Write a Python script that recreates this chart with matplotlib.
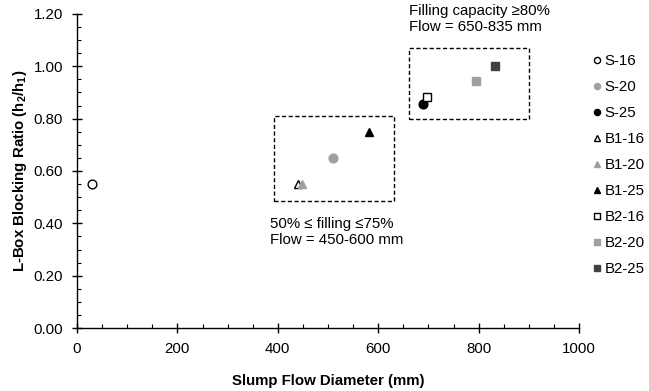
import numpy as np
import matplotlib
matplotlib.use('Agg')
import matplotlib.pyplot as plt
from matplotlib.patches import Rectangle
from matplotlib.ticker import MultipleLocator, FormatStrFormatter

plt.rcParams['font.family'] = ['Liberation Sans', 'DejaVu Sans']
plt.rcParams['mathtext.fontset'] = 'custom'
plt.rcParams['mathtext.rm'] = 'Liberation Sans'
plt.rcParams['mathtext.bf'] = 'Liberation Sans:bold'

# data
labels = ['S-16', 'S-20', 'S-25', 'B1-16', 'B1-20', 'B1-25', 'B2-16', 'B2-20', 'B2-25']
flow = [30, 510, 689, 441, 448, 582, 697, 795, 833]
ratio = [0.55, 0.65, 0.855, 0.55, 0.55, 0.75, 0.883, 0.944, 1.00]
markers = ['o', 'o', 'o', '^', '^', '^', 's', 's', 's']
faces = ['white', '#a0a0a0', 'black', 'white', '#a0a0a0', 'black', 'white', '#a0a0a0', '#404040']
edges = ['black', '#a0a0a0', 'black', 'black', '#a0a0a0', 'black', 'black', '#a0a0a0', '#404040']

# dashed boxes: (x0, y0, x1, y1)
box_low = (392, 0.485, 631, 0.81)
box_high = (661, 0.80, 900, 1.07)

fs = 10.8

fig = plt.figure(figsize=(6.49, 3.91), dpi=100)
ax = fig.add_axes([77/649, 1-328/391, 502/649, 314/391])

for i in range(len(labels)):
    ax.plot(flow[i], ratio[i], linestyle='none', marker=markers[i], markersize=6.3,
            markerfacecolor=faces[i], markeredgecolor=edges[i], markeredgewidth=1.0,
            label=labels[i], clip_on=False, zorder=3)

for b in [box_low, box_high]:
    ax.add_patch(Rectangle((b[0], b[1]), b[2]-b[0], b[3]-b[1], fill=False,
                           edgecolor='black', linewidth=1.0, linestyle=(0, (3, 1.8))))

ax.text(box_high[0], 1.238, 'Filling capacity \u226580%\nFlow = 650-835 mm',
        fontsize=fs, va='top', ha='left', linespacing=1.2)
ax.text(385, 0.425, '50% \u2264 filling \u226475%\nFlow = 450-600 mm',
        fontsize=fs, va='top', ha='left', linespacing=1.2)

ax.set_xlim(0, 1000)
ax.set_ylim(0, 1.2)
ax.xaxis.set_major_locator(MultipleLocator(200))
ax.xaxis.set_minor_locator(MultipleLocator(50))
ax.yaxis.set_major_locator(MultipleLocator(0.2))
ax.yaxis.set_minor_locator(MultipleLocator(0.05))
ax.yaxis.set_major_formatter(FormatStrFormatter('%.2f'))

ax.spines['top'].set_visible(False)
ax.spines['right'].set_visible(False)
ax.spines['left'].set_linewidth(1.0)
ax.spines['bottom'].set_linewidth(1.0)
ax.tick_params(which='major', direction='inout', length=7, width=1.0, labelsize=fs, pad=6.5)
ax.tick_params(which='minor', direction='in', length=3, width=0.8)

ax.set_xlabel('Slump Flow Diameter (mm)', fontsize=fs, fontweight='bold', labelpad=13)
ax.set_ylabel(r'L-Box Blocking Ratio (h$_{\mathbf{2}}$/h$_{\mathbf{1}}$)', fontsize=fs,
              fontweight='bold', labelpad=3)

fig.legend(loc='upper left', bbox_to_anchor=(586/649, 1-48/391), frameon=False,
           fontsize=fs, markerscale=0.7, handlelength=0.6, handletextpad=0.25,
           labelspacing=0.8, borderaxespad=0)

fig.savefig('out.png', dpi=100)
